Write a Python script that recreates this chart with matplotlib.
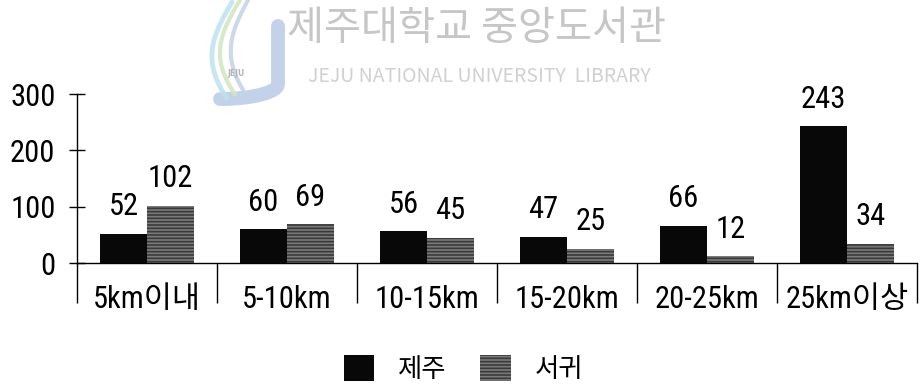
import matplotlib.pyplot as plt
import numpy as np
from matplotlib.patches import Patch

plt.rcParams['font.family'] = ['Roboto Condensed', 'Liberation Sans Narrow', 'Noto Sans CJK KR', 'DejaVu Sans']
plt.rcParams['hatch.linewidth'] = 1.2

# distance bands and counts per region
categories = ['5km이내', '5-10km', '10-15km', '15-20km', '20-25km', '25km이상']
jeju = [52, 60, 56, 47, 66, 243]
seogwi = [102, 69, 45, 25, 12, 34]
series_names = ['제주', '서귀']

W, H = 921, 390
fig = plt.figure(figsize=(W / 100, H / 100), dpi=100)
ax = fig.add_axes([0.0836, 0.3256, 0.9121, 0.4333])

x = np.arange(len(categories))
w = 0.335
b1 = ax.bar(x - w / 2, jeju, w, color='#080808', linewidth=0)
b2 = ax.bar(x + w / 2, seogwi, w, color='#7a7a7a', edgecolor='#3a3a3a',
            hatch='-----', linewidth=0)

for bars, vals in ((b1, jeju), (b2, seogwi)):
    for r, v in zip(bars, vals):
        ax.annotate(str(v), (r.get_x() + r.get_width() / 2, v),
                    xytext=(0, 9), textcoords='offset points',
                    ha='center', va='bottom', fontsize=22, clip_on=False)

ax.set_xlim(-0.5, len(categories) - 0.5)
ax.set_ylim(0, 300)
ax.set_yticks([0, 100, 200, 300])
ax.tick_params(axis='y', direction='inout', length=11, width=1, labelsize=22, pad=10)

# category labels between long boundary ticks
ax.set_xticks(x)
ax.set_xticklabels(categories, fontsize=22)
ax.tick_params(axis='x', which='major', length=0, pad=16)
ax.set_xticks(np.arange(len(categories) + 1) - 0.5, minor=True)
ax.tick_params(axis='x', which='minor', direction='out', length=29, width=1)

for s in ('top', 'right'):
    ax.spines[s].set_visible(False)
ax.spines['left'].set_linewidth(1)
ax.spines['bottom'].set_linewidth(1)

handles = [Patch(facecolor='#080808', linewidth=0),
           Patch(facecolor='#7a7a7a', edgecolor='#3a3a3a', hatch='-----', linewidth=0)]
fig.legend(handles, series_names, loc='center', bbox_to_anchor=(0.503, 0.055),
           ncol=2, frameon=False, fontsize=19, handlelength=1.15, handleheight=1.15,
           columnspacing=1.3, handletextpad=0.9)

# library watermark
fig.text(0.517, 0.928, '제주대학교 중앙도서관', fontsize=29, color='#c6c6c6',
         ha='center', va='center', family=['Noto Sans CJK KR'])
fig.text(0.521, 0.803, 'JEJU NATIONAL UNIVERSITY  LIBRARY', fontsize=14,
         color='#d0d0d0', ha='center', va='center', family=['Noto Sans CJK KR'])


def px(xs, ys):
    return np.asarray(xs) / W, 1 - np.asarray(ys) / H


t = np.linspace(0, 1, 60)
s = np.linspace(0, 1, 30)
jx = np.concatenate([np.full(30, 278.0), 278 - 58 * (1 - np.cos(np.pi / 2 * s))])
jy = np.concatenate([np.linspace(26, 84, 30), 84 + 15 * np.sin(np.pi / 2 * s)])
strokes = [
    (jx, jy, '#b9cbe6', 10),
    (232 - 26 * np.sin(np.pi * t * 0.8) + 10 * t, 2 + 96 * t, '#bfe2f0', 3.5),
    (240 - 26 * np.sin(np.pi * t * 0.8) + 10 * t, 0 + 94 * t, '#d0e6bf', 3),
    (248 - 22 * np.sin(np.pi * t * 0.8) + 8 * t, 0 + 90 * t, '#c4d3e8', 3),
]
for sx, sy, c, lw in strokes:
    fx, fy = px(sx, sy)
    fig.add_artist(plt.Line2D(fx, fy, transform=fig.transFigure, color=c, lw=lw,
                              alpha=0.85, solid_capstyle='round'))
cx, cy = px(236, 74)
fig.text(cx, cy, 'JEJU', fontsize=5.5, color='#b4b4b4', ha='center', va='center',
         family=['DejaVu Sans'], weight='bold')

fig.savefig('out.png', dpi=100, facecolor='white')
